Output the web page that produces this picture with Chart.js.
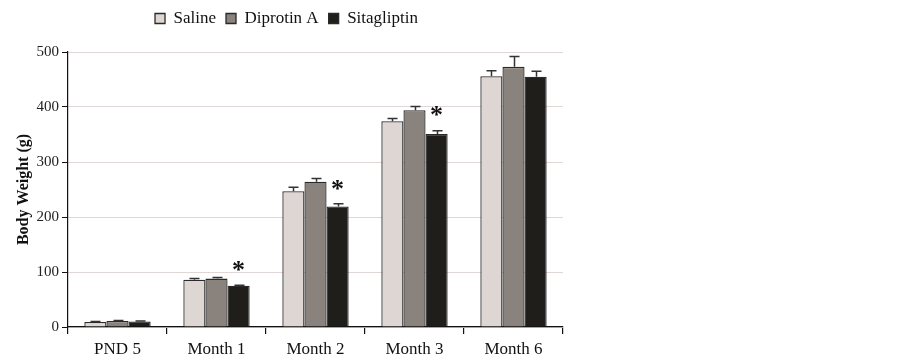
<!DOCTYPE html>
<html><head><meta charset="utf-8">
<script src="https://cdn.jsdelivr.net/npm/chart.js@4"></script>
<style>html,body{margin:0;padding:0;background:#fff}#c{display:block}</style>
</head><body>
<div style="width:903px;height:363px"><canvas id="c" width="903" height="363"></canvas></div>
<script>
const categories = ["PND 5", "Month 1", "Month 2", "Month 3", "Month 6"];
const seriesNames = ["Saline", "Diprotin A", "Sitagliptin"];
const saline = [9, 86, 247, 374, 456];
const diprotin = [11, 88, 264, 394, 473];
const sitagliptin = [10, 75, 219, 351, 455];
const salineErr = [1, 2, 7, 5, 10];
const diprotinErr = [1, 2, 6, 7, 19];
const sitagliptinErr = [1, 1, 5, 6, 10];
const significant = [false, true, true, true, false];
const yTicks = [0, 100, 200, 300, 400, 500];

const colors = ["#ddd6d3", "#8a827d", "#1f1e1b"];
const errs = [salineErr, diprotinErr, sitagliptinErr];
const serif = "'Liberation Serif', 'Times New Roman', serif";

const legendHeight = {
  id: 'legendHeight',
  beforeInit(chart) {
    const lg = chart.legend;
    if (!lg) return;
    const orig = lg.fit;
    lg.fit = function () { orig.call(this); this.height = 52; };
  }
};

const errorBars = {
  id: 'errorBars',
  afterDatasetsDraw(chart) {
    const ctx = chart.ctx, y = chart.scales.y;
    ctx.save();
    ctx.strokeStyle = '#333';
    ctx.lineWidth = 1.5;
    chart.data.datasets.forEach((ds, di) => {
      const meta = chart.getDatasetMeta(di);
      meta.data.forEach((el, i) => {
        const top = y.getPixelForValue(ds.data[i] + errs[di][i]);
        const x = Math.round(el.x) + 0.5;
        ctx.beginPath();
        ctx.moveTo(x, el.y);
        ctx.lineTo(x, top);
        ctx.moveTo(x - 5, top);
        ctx.lineTo(x + 5, top);
        ctx.stroke();
      });
    });
    const meta = chart.getDatasetMeta(2);
    ctx.fillStyle = '#111';
    ctx.font = "bold 26px " + serif;
    ctx.textAlign = 'center';
    ctx.textBaseline = 'middle';
    significant.forEach((s, i) => {
      if (!s) return;
      const el = meta.data[i];
      const top = y.getPixelForValue(sitagliptin[i] + sitagliptinErr[i]);
      ctx.fillText('*', el.x, top - 14);
    });
    ctx.restore();
  }
};

new Chart(document.getElementById('c'), {
  type: 'bar',
  data: {
    labels: categories,
    datasets: [
      { label: seriesNames[0], data: saline, backgroundColor: colors[0] },
      { label: seriesNames[1], data: diprotin, backgroundColor: colors[1] },
      { label: seriesNames[2], data: sitagliptin, backgroundColor: colors[2] }
    ].map(d => Object.assign(d, { borderColor: '#2a2a2a', borderWidth: 1.3, categoryPercentage: 0.67, barPercentage: 1.0 }))
  },
  options: {
    responsive: false,
    animation: false,
    layout: { padding: { left: 10, right: 340, top: 0, bottom: 0 } },
    plugins: {
      tooltip: { enabled: false },
      legend: {
        position: 'top',
        labels: {
          font: { family: serif, size: 17 },
          color: '#111',
          boxWidth: 10, boxHeight: 10,
          padding: 10
        }
      }
    },
    scales: {
      x: {
        afterFit(scale) { scale.height = 36; },
        grid: { display: true, drawOnChartArea: false, offset: true, tickLength: 7, color: '#111', lineWidth: 1.2 },
        border: { color: '#111', width: 1.2 },
        ticks: { font: { family: serif, size: 17 }, color: '#111', padding: 5 }
      },
      y: {
        min: 0, max: 500,
        afterBuildTicks(scale) { scale.ticks = yTicks.map(v => ({ value: v })); },
        afterFit(scale) { scale.width = 58; },
        grid: { color: '#e0d6d6', lineWidth: 1, tickLength: 6, tickColor: '#111' },
        border: { color: '#111', width: 1.2 },
        ticks: { font: { family: serif, size: 15 }, color: '#222', padding: 3 },
        title: { display: true, text: 'Body Weight (g)', font: { family: serif, size: 16, weight: 'bold' }, color: '#111', padding: 4 }
      }
    }
  },
  plugins: [legendHeight, errorBars]
});
</script>
</body></html>
